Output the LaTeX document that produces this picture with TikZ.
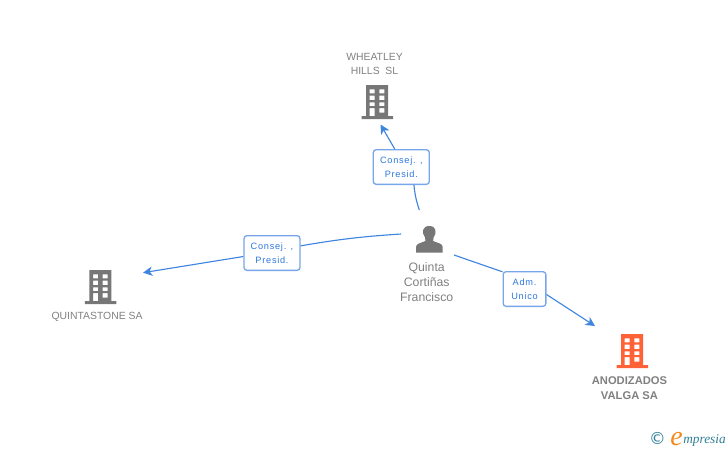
\documentclass[tikz,border=0pt]{standalone}
\usepackage{fontspec}
\setmainfont{Liberation Sans}
\newfontfamily\boxfont[LetterSpace=8]{Liberation Sans}
\newfontfamily\logofont{Liberation Serif}
\newfontfamily\symbfont{DejaVu Sans}
\usetikzlibrary{arrows.meta}
\definecolor{blue3}{HTML}{3F85E0}
\definecolor{blue4}{HTML}{78A6EA}
\definecolor{blue5}{HTML}{2F78E0}
\definecolor{gray3}{HTML}{777777}
\definecolor{gray4}{HTML}{808080}
\definecolor{orange3}{HTML}{FF6236}
\definecolor{teal3}{HTML}{2F7F96}
\definecolor{orange4}{HTML}{F28A1E}

\tikzset{
  pics/building/.style={code={
    \fill[#1, even odd rule] (-11.5,0) rectangle (10.5,31)
      (-16,31) rectangle (15.5,34)
      (-7.8,4.3) rectangle (-2.8,8.3) (1.8,4.3) rectangle (6.8,8.3)
      (-7.8,10.7) rectangle (-2.8,15) (1.8,10.7) rectangle (6.8,15)
      (-7.8,17.3) rectangle (-2.8,21) (1.8,17.3) rectangle (6.8,21)
      (-7.8,23) rectangle (-2.8,31) (1.8,23) rectangle (6.8,27.7);
  }},
  linkbox/.style={draw=blue4, line width=1pt, rounded corners=2.2pt, fill=white, text=blue5,
    inner sep=0pt, align=center, minimum height=26pt,
    font=\boxfont\fontsize{6.9}{10.9}\selectfont},
  namelabel/.style={text=gray4, align=center, inner sep=0pt, font=\fontsize{7.8}{11}\selectfont},
  link/.style={blue3, line width=0.85pt},
  linkarrow/.style={link, -{Stealth[length=7pt,width=7pt,inset=2pt]}}
}

\begin{document}
\begin{tikzpicture}[x=0.75pt, y=-0.75pt]
    \useasboundingbox (0,0) rectangle (728,450);

    % buildings and their names
    \pic at (377.5,85) {building=gray3};
    \pic at (100.8,270) {building=gray3};
    \pic at (632.5,334) {building=orange3};
    \node[namelabel] (wheatley) at (374.5,64) {WHEATLEY\\HILLS\ \ SL};
    \node[namelabel] (quintastone) at (97,317) {QUINTASTONE SA};
    \node[namelabel, font=\bfseries\fontsize{8.4}{11.5}\selectfont] (anodizados) at (629.5,388) {ANODIZADOS\\VALGA SA};

    % person
    \fill[gray3] (416,252.7) -- (416,247) .. controls (416,243.5) and (421,243) .. (425.5,241)
      .. controls (425.8,239.5) and (425.5,238.5) .. (425,237.5)
      .. controls (421.5,233) and (422,226) .. (429.3,226)
      .. controls (436.6,226) and (437,233) .. (433.6,237.5)
      .. controls (433,238.5) and (432.8,239.5) .. (433.1,241)
      .. controls (437.6,243) and (442.7,243.5) .. (442.7,247) -- (442.7,252.7) -- cycle;
    \node[namelabel, font=\fontsize{9.2}{11.25}\selectfont] (quinta) at (426.7,282) {Quinta\\Corti\~nas\\Francisco};

    % free ends near the icons
    \coordinate (topstart) at (419.3,210);
    \coordinate (leftstart) at (401,234);
    \coordinate (rightstart) at (454,255);
    \coordinate (toptip) at (380.5,124.5);
    \coordinate (lefttip) at (143,272.7);
    \coordinate (righttip) at (595,326);

    \node[linkbox, minimum width=42pt] (boxtop) at (401.3,167) {Consej. ,\\Presid.};
    \node[linkbox, minimum width=42pt] (boxleft) at (272,253) {Consej. ,\\Presid.};
    \node[linkbox, minimum width=32pt] (boxright) at (524.5,289) {Adm.\\Unico};

    \draw[link] (topstart) to[bend left=6] (boxtop.-55);
    \draw[linkarrow] (boxtop.110) -- (toptip);
    \draw[link] (leftstart) to[bend right=3] (boxleft.14);
    \draw[linkarrow] (boxleft.187) -- (lefttip);
    \draw[link] (rightstart) -- (boxright.142);
    \draw[linkarrow] (boxright.-14) -- (righttip);

    % logo
    \node[text=teal3, inner sep=0pt, font=\symbfont\fontsize{12.5}{12.5}\selectfont] (copyr) at (657.5,438.5) {©};
    \node[text=orange4, inner sep=0pt, anchor=base west, font=\logofont\itshape\fontsize{21}{21}\selectfont] (logoe) at (670,445) {e};
    \node[text=teal3, inner sep=0pt, anchor=base west, font=\logofont\itshape\fontsize{10}{10}\selectfont] (logotext) at (683,443) {mpresia};

\end{tikzpicture}
\end{document}
